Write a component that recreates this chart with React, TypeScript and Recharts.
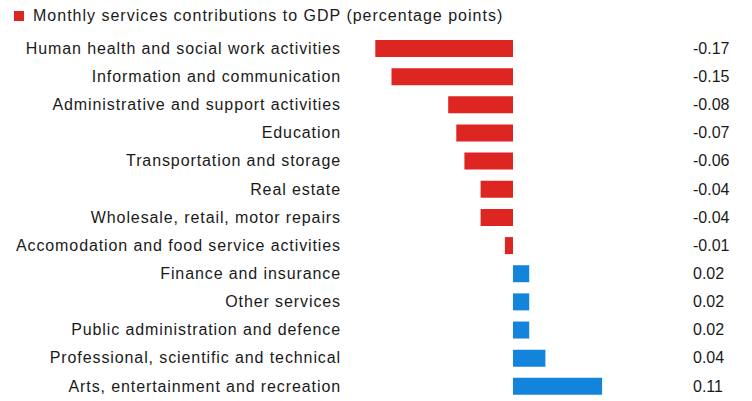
import React from 'react';
import { BarChart, Bar, XAxis, YAxis, Cell } from 'recharts';

const categories = [
  'Human health and social work activities',
  'Information and communication',
  'Administrative and support activities',
  'Education',
  'Transportation and storage',
  'Real estate',
  'Wholesale, retail, motor repairs',
  'Accomodation and food service activities',
  'Finance and insurance',
  'Other services',
  'Public administration and defence',
  'Professional, scientific and technical',
  'Arts, entertainment and recreation',
];

const contributions = [-0.17, -0.15, -0.08, -0.07, -0.06, -0.04, -0.04, -0.01, 0.02, 0.02, 0.02, 0.04, 0.11];

const valueLabels = ['-0.17', '-0.15', '-0.08', '-0.07', '-0.06', '-0.04', '-0.04', '-0.01', '0.02', '0.02', '0.02', '0.04', '0.11'];

const RED = '#dd2622';
const BLUE = '#1384dc';
const FONT = '"Liberation Sans", Arial, sans-serif';

const data = categories.map((name, i) => ({
  name,
  value: contributions[i],
  label: valueLabels[i],
}));

export default function App() {
  return (
    <div style={{ position: 'absolute', left: 0, top: 0, width: 752, height: 401, background: '#fff', fontFamily: FONT }}>
      {/* legend */}
      <div style={{ position: 'absolute', left: 14, top: 7, display: 'flex', alignItems: 'center', fontSize: 16, color: '#1a1a1a', letterSpacing: 1 }}>
        <span style={{ display: 'inline-block', width: 10, height: 10, background: RED, marginRight: 9 }} />
        <span>Monthly services contributions to GDP (percentage points)</span>
      </div>
      <BarChart
        width={752}
        height={401}
        data={data}
        layout="vertical"
        margin={{ top: 34, right: 0, bottom: 1, left: 0 }}
      >
        <XAxis type="number" domain={[-0.2, 0.2]} hide />
        <YAxis
          yAxisId="left"
          type="category"
          dataKey="name"
          width={351}
          axisLine={false}
          tickLine={false}
          tickSize={6}
          tickMargin={4}
          interval={0}
          tick={{ fontSize: 16, fill: '#1a1a1a', fontFamily: FONT, letterSpacing: 0.9 }}
        />
        <YAxis
          yAxisId="right"
          orientation="right"
          type="category"
          dataKey="label"
          width={77}
          axisLine={false}
          tickLine={false}
          tickSize={6}
          tickMargin={12}
          interval={0}
          tick={{ fontSize: 16, fill: '#1a1a1a', fontFamily: FONT, textAnchor: 'start' }}
        />
        <Bar dataKey="value" yAxisId="left" barSize={17} isAnimationActive={false}>
          {data.map((d, i) => (
            <Cell key={i} fill={d.value < 0 ? RED : BLUE} />
          ))}
        </Bar>
      </BarChart>
    </div>
  );
}
